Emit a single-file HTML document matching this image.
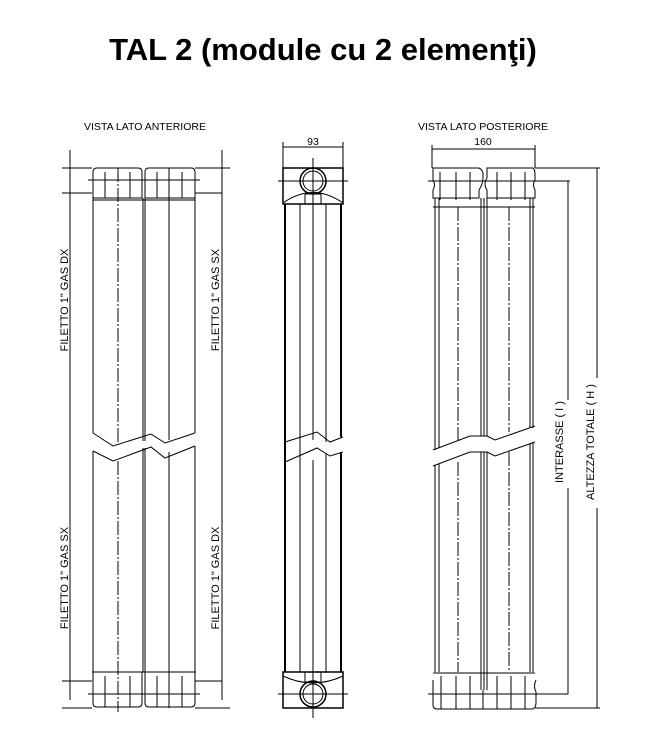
<!DOCTYPE html>
<html><head><meta charset="utf-8"><style>
html,body{margin:0;padding:0;background:#fff;width:667px;height:743px;overflow:hidden}
svg{display:block}
text{font-family:"Liberation Sans",sans-serif;fill:#000}
</style></head><body>
<svg width="667" height="743" viewBox="0 0 667 743" xmlns="http://www.w3.org/2000/svg">
<text x="323" y="60" font-size="31" font-weight="bold" text-anchor="middle">TAL 2 (module cu 2 elemenţi)</text>
<text x="145" y="130" font-size="10.5" text-anchor="middle">VISTA LATO ANTERIORE</text>
<text x="483" y="130" font-size="10.5" text-anchor="middle">VISTA LATO POSTERIORE</text>
<text x="313" y="145" font-size="10.5" text-anchor="middle">93</text>
<text x="483" y="145" font-size="10.5" text-anchor="middle">160</text>

<g stroke="#000" fill="none" stroke-width="1">
<!-- FRONT VIEW -->
<line x1="70" y1="150" x2="70" y2="700"/><line x1="222" y1="150" x2="222" y2="700"/>
<line x1="62" y1="168" x2="92" y2="168"/><line x1="62" y1="193" x2="92" y2="193"/>
<line x1="195" y1="168" x2="230" y2="168"/><line x1="195" y1="193" x2="222" y2="193"/>
<line x1="62" y1="681" x2="92" y2="681"/><line x1="62" y1="708" x2="92" y2="708"/>
<line x1="195" y1="681" x2="222" y2="681"/><line x1="195" y1="708" x2="230" y2="708"/>
<path d="M93 198 V172 Q93 168 97 168 H138 Q142 168 142 172 V198 Z"/>
<path d="M145 198 V172 Q145 168 149 168 H191 Q195 168 195 172 V198 Z"/>
<line x1="93" y1="200" x2="195" y2="200"/>
<line x1="93" y1="198" x2="93" y2="433"/><line x1="143" y1="198" x2="143" y2="441"/><line x1="145" y1="198" x2="145" y2="441"/><line x1="195" y1="198" x2="195" y2="433"/>
<line x1="118" y1="168" x2="118" y2="445" stroke-dasharray="14,2,2,2"/><line x1="169" y1="168" x2="169" y2="440"/>
<path d="M93 433 L113 446 L151 434 L165 443 L195 433"/>
<path d="M93 451 L113 461 L151 447 L165 458 L195 446"/>
<line x1="93" y1="451" x2="93" y2="672"/><line x1="143" y1="448" x2="143" y2="672"/><line x1="145" y1="448" x2="145" y2="672"/><line x1="195" y1="446" x2="195" y2="672"/>
<line x1="118" y1="461" x2="118" y2="712" stroke-dasharray="14,2,2,2"/><line x1="169" y1="452" x2="169" y2="708"/>
<line x1="92" y1="672" x2="196" y2="672"/>
<path d="M93 672 V703 Q93 707 97 707 H138 Q142 707 142 703 V672"/>
<path d="M145 672 V703 Q145 707 149 707 H191 Q195 707 195 703 V672"/>
<line x1="88" y1="694" x2="200" y2="694"/>
<line x1="88" y1="180" x2="200" y2="180"/>
<line x1="105" y1="172" x2="105" y2="198"/><line x1="130" y1="172" x2="130" y2="198"/><line x1="157" y1="172" x2="157" y2="198"/><line x1="182" y1="172" x2="182" y2="198"/>
<line x1="105" y1="676" x2="105" y2="707"/><line x1="130" y1="676" x2="130" y2="707"/><line x1="157" y1="676" x2="157" y2="707"/><line x1="182" y1="676" x2="182" y2="707"/>

<!-- SIDE VIEW -->
<line x1="283" y1="147" x2="343" y2="147"/><line x1="283" y1="142" x2="283" y2="168"/><line x1="343" y1="142" x2="343" y2="168"/>
<rect x="283" y="168" width="60" height="36" stroke-width="1.5"/>
<path d="M283 203 Q313 182 343 203"/>
<circle cx="313" cy="181" r="13" stroke-width="1.5"/><circle cx="313" cy="181" r="10"/>
<line x1="278" y1="181" x2="348" y2="181"/><line x1="313" y1="158" x2="313" y2="440"/>
<rect x="305" y="194" width="16" height="10"/>
<line x1="285" y1="204" x2="285" y2="463" stroke-width="2"/><line x1="300" y1="204" x2="300" y2="458"/><line x1="326" y1="204" x2="326" y2="442"/><line x1="341" y1="204" x2="341" y2="437" stroke-width="2"/>
<path d="M285 442 L317 432 L330 442 L343 437"/>
<path d="M285 462 L317 448 L330 456 L343 452"/>
<line x1="285" y1="462" x2="285" y2="672" stroke-width="2"/><line x1="300" y1="457" x2="300" y2="672"/><line x1="326" y1="454" x2="326" y2="672"/><line x1="341" y1="452" x2="341" y2="672" stroke-width="2"/>
<line x1="313" y1="460" x2="313" y2="718"/>
<rect x="283" y="672" width="60" height="36" stroke-width="1.5"/>
<path d="M283 676 Q313 690 343 676"/>
<circle cx="313" cy="694" r="13" stroke-width="1.5"/><circle cx="313" cy="694" r="10"/>
<line x1="278" y1="694" x2="348" y2="694"/>
<rect x="305" y="672" width="16" height="10"/>

<!-- BACK VIEW -->
<line x1="432" y1="149" x2="535" y2="149"/><line x1="432" y1="145" x2="432" y2="168"/><line x1="535" y1="145" x2="535" y2="168"/>
<path d="M433 168 H479 Q483 170 483 174 V178 Q483 184 479 190 V198 H433 V190 Q436 185 433 180 Z"/>
<path d="M487 168 H533 Q535 170 535 174 V180 Q532 185 535 190 V198 H487 V190 Q483 184 487 178 Z"/>
<line x1="433" y1="207" x2="535" y2="207"/>
<line x1="428" y1="181" x2="540" y2="181"/>
<line x1="440" y1="172" x2="440" y2="200"/><line x1="456" y1="172" x2="456" y2="200"/><line x1="470" y1="172" x2="470" y2="200"/><line x1="497" y1="172" x2="497" y2="200"/><line x1="511" y1="172" x2="511" y2="200"/><line x1="525" y1="172" x2="525" y2="200"/>
<line x1="435" y1="198" x2="435" y2="450"/><line x1="439" y1="198" x2="439" y2="448"/>
<line x1="481" y1="198" x2="481" y2="436"/><line x1="484" y1="198" x2="484" y2="436"/><line x1="487" y1="198" x2="487" y2="436"/>
<line x1="530" y1="198" x2="530" y2="428"/><line x1="533" y1="198" x2="533" y2="428"/>
<line x1="458" y1="207" x2="458" y2="440" stroke-dasharray="14,2,2,2"/><line x1="509" y1="207" x2="509" y2="432" stroke-dasharray="14,2,2,2"/>
<path d="M433 450 L470 436 L487 436 L495 440 L535 426"/>
<path d="M433 466 L470 452 L487 452 L495 456 L535 442"/>
<line x1="435" y1="465" x2="435" y2="672"/><line x1="439" y1="464" x2="439" y2="672"/>
<line x1="481" y1="452" x2="481" y2="690"/><line x1="484" y1="452" x2="484" y2="690"/><line x1="487" y1="452" x2="487" y2="690"/>
<line x1="530" y1="443" x2="530" y2="672"/><line x1="533" y1="442" x2="533" y2="672"/>
<line x1="458" y1="462" x2="458" y2="672" stroke-dasharray="14,2,2,2"/><line x1="509" y1="452" x2="509" y2="672" stroke-dasharray="14,2,2,2"/>
<line x1="433" y1="673" x2="535" y2="673"/>
<path d="M433 680 V705 Q433 709 437 709 H533 Q536 707 536 703 V692 Q533 686 536 680"/>
<line x1="483" y1="690" x2="483" y2="709"/>
<line x1="428" y1="694" x2="568" y2="694"/>
<line x1="441" y1="676" x2="441" y2="709"/><line x1="456" y1="676" x2="456" y2="709"/><line x1="470" y1="676" x2="470" y2="709"/><line x1="497" y1="676" x2="497" y2="709"/><line x1="511" y1="676" x2="511" y2="709"/><line x1="525" y1="676" x2="525" y2="709"/>
<line x1="535" y1="168" x2="600" y2="168"/><line x1="535" y1="181" x2="570" y2="181"/>
<line x1="535" y1="708" x2="600" y2="708"/>
<line x1="568" y1="181" x2="568" y2="400"/><line x1="568" y1="488" x2="568" y2="694"/>
<line x1="597" y1="168" x2="597" y2="378"/><line x1="597" y1="508" x2="597" y2="708"/>
</g>
<g font-size="11">
<text transform="translate(68,300) rotate(-90)" text-anchor="middle">FILETTO 1" GAS DX</text>
<text transform="translate(219,300) rotate(-90)" text-anchor="middle">FILETTO 1" GAS SX</text>
<text transform="translate(68,578) rotate(-90)" text-anchor="middle">FILETTO 1" GAS SX</text>
<text transform="translate(219,578) rotate(-90)" text-anchor="middle">FILETTO 1" GAS DX</text>
<text transform="translate(563,442) rotate(-90)" text-anchor="middle">INTERASSE ( I )</text>
<text transform="translate(594,442) rotate(-90)" text-anchor="middle">ALTEZZA TOTALE ( H )</text>
</g>
</svg>
</body></html>
